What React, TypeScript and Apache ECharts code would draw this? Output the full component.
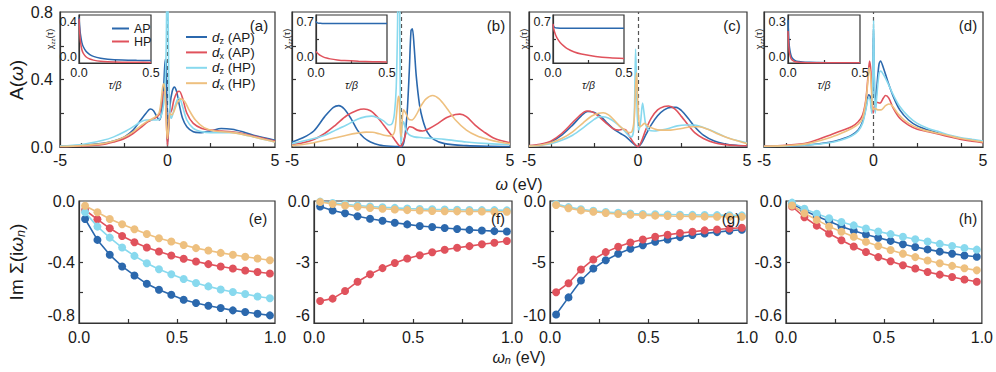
import React, { useEffect, useRef } from 'react';
import * as echarts from 'echarts';

const FONT = '"Liberation Sans", Arial, Helvetica, sans-serif';
const AX = '#333333';
const TXT = '#1a1a1a';

const COLORS = ['#2b68ad', '#e0525c', '#88d9ee', '#eec07f'];
const ORBITALS = ['dz (AP)', 'dx (AP)', 'dz (HP)', 'dx (HP)'];
const INSET_NAMES = ['AP', 'HP'];
const PANEL_LABELS = ['(a)', '(b)', '(c)', '(d)', '(e)', '(f)', '(g)', '(h)'];

// ---- spectral functions A(w): [omega (eV), A] ----
const aDzAP = [[-5,0.004],[-4,0.01],[-3,0.022],[-2.5,0.035],[-2,0.06],[-1.6,0.1],[-1.3,0.15],[-1.0,0.2],[-0.8,0.225],[-0.65,0.215],[-0.5,0.18],[-0.38,0.16],[-0.28,0.2],[-0.18,0.35],[-0.1,0.52],[-0.06,0.5],[-0.02,0.15],[0,0.02],[0.04,0.08],[0.12,0.25],[0.22,0.33],[0.32,0.355],[0.42,0.33],[0.55,0.25],[0.7,0.17],[0.9,0.12],[1.2,0.09],[1.5,0.085],[2,0.095],[2.5,0.11],[3,0.105],[3.5,0.09],[4,0.07],[4.5,0.055],[5,0.04]];
const aDxAP = [[-5,0.003],[-4,0.006],[-3,0.015],[-2.5,0.03],[-2,0.05],[-1.6,0.08],[-1.2,0.12],[-0.9,0.15],[-0.6,0.17],[-0.4,0.19],[-0.28,0.25],[-0.2,0.32],[-0.14,0.33],[-0.08,0.25],[-0.03,0.08],[0,0.01],[0.05,0.12],[0.12,0.2],[0.2,0.22],[0.3,0.28],[0.45,0.325],[0.55,0.33],[0.7,0.29],[0.9,0.2],[1.2,0.14],[1.6,0.11],[2,0.1],[2.5,0.095],[3,0.09],[3.5,0.08],[4,0.065],[4.5,0.05],[5,0.035]];
const aDzHP = [[-5,0.005],[-4,0.015],[-3,0.04],[-2.5,0.06],[-2,0.09],[-1.6,0.12],[-1.3,0.145],[-1.0,0.16],[-0.7,0.16],[-0.5,0.16],[-0.35,0.17],[-0.22,0.22],[-0.12,0.35],[-0.06,0.6],[-0.02,1.0],[0.02,0.9],[0.06,0.4],[0.12,0.2],[0.18,0.17],[0.3,0.22],[0.45,0.28],[0.55,0.29],[0.7,0.24],[0.9,0.16],[1.2,0.11],[1.6,0.09],[2,0.085],[2.5,0.085],[3,0.085],[3.5,0.075],[4,0.06],[4.5,0.045],[5,0.03]];
const aDxHP = [[-5,0.003],[-4,0.008],[-3,0.02],[-2.5,0.035],[-2,0.06],[-1.6,0.09],[-1.2,0.13],[-0.9,0.155],[-0.6,0.175],[-0.4,0.2],[-0.3,0.27],[-0.22,0.36],[-0.17,0.375],[-0.1,0.3],[-0.04,0.1],[0,0.05],[0.05,0.12],[0.12,0.2],[0.2,0.19],[0.3,0.21],[0.45,0.26],[0.62,0.285],[0.8,0.27],[1.0,0.22],[1.3,0.16],[1.7,0.115],[2.2,0.095],[3,0.085],[3.5,0.075],[4,0.06],[4.5,0.045],[5,0.03]];

const bDzAP = [[-5,0.03],[-4.5,0.055],[-4,0.095],[-3.5,0.18],[-3.1,0.235],[-2.85,0.245],[-2.6,0.225],[-2.3,0.17],[-2,0.1],[-1.7,0.055],[-1.4,0.03],[-1,0.012],[-0.5,0.004],[0,0.002],[0.15,0.04],[0.28,0.2],[0.38,0.45],[0.46,0.69],[0.52,0.7],[0.6,0.6],[0.7,0.42],[0.85,0.25],[1.0,0.16],[1.2,0.09],[1.5,0.045],[2,0.02],[3,0.008],[4,0.004],[5,0.003]];
const bDxAP = [[-5,0.015],[-4.5,0.025],[-4,0.045],[-3.5,0.08],[-3,0.13],[-2.5,0.185],[-2,0.218],[-1.7,0.225],[-1.4,0.215],[-1.1,0.18],[-0.8,0.13],[-0.5,0.08],[-0.3,0.045],[-0.1,0.01],[0,0.005],[0.1,0.03],[0.25,0.09],[0.4,0.12],[0.55,0.115],[0.75,0.1],[1,0.095],[1.3,0.11],[1.7,0.14],[2.1,0.175],[2.5,0.193],[2.7,0.195],[3,0.18],[3.4,0.13],[3.8,0.09],[4.3,0.05],[5,0.025]];
const bDzHP = [[-5,0.02],[-4.5,0.035],[-4,0.05],[-3.5,0.07],[-3,0.1],[-2.5,0.13],[-2,0.165],[-1.6,0.18],[-1.35,0.183],[-1.1,0.175],[-0.8,0.155],[-0.55,0.13],[-0.4,0.14],[-0.3,0.2],[-0.22,0.35],[-0.16,0.7],[-0.12,1.1],[-0.08,1.1],[-0.05,0.6],[-0.02,0.1],[0,0.02],[0.05,0.12],[0.12,0.15],[0.2,0.11],[0.35,0.075],[0.6,0.06],[1,0.055],[1.5,0.05],[2,0.045],[3,0.03],[4,0.02],[5,0.015]];
const bDxHP = [[-5,0.008],[-4.5,0.015],[-4,0.025],[-3.5,0.04],[-3,0.055],[-2.5,0.07],[-2,0.082],[-1.6,0.088],[-1.3,0.087],[-1,0.078],[-0.7,0.068],[-0.45,0.065],[-0.3,0.09],[-0.2,0.2],[-0.12,0.3],[-0.08,0.28],[-0.04,0.12],[0,0.06],[0.05,0.15],[0.12,0.22],[0.22,0.2],[0.35,0.165],[0.5,0.16],[0.7,0.19],[0.9,0.24],[1.15,0.285],[1.45,0.305],[1.75,0.285],[2.1,0.23],[2.5,0.16],[3,0.1],[3.5,0.065],[4,0.045],[4.5,0.03],[5,0.02]];

const cDzAP = [[-5,0.006],[-4.5,0.012],[-4,0.03],[-3.5,0.07],[-3,0.13],[-2.6,0.185],[-2.3,0.21],[-2,0.205],[-1.7,0.18],[-1.4,0.14],[-1.1,0.105],[-0.8,0.08],[-0.55,0.06],[-0.3,0.03],[-0.1,0.008],[0,0.002],[0.15,0.02],[0.35,0.07],[0.6,0.13],[0.9,0.185],[1.2,0.22],[1.5,0.235],[1.75,0.235],[2,0.215],[2.3,0.17],[2.6,0.12],[3,0.07],[3.5,0.035],[4,0.018],[4.5,0.01],[5,0.006]];
const cDxAP = [[-5,0.008],[-4.5,0.016],[-4,0.035],[-3.5,0.08],[-3,0.145],[-2.6,0.195],[-2.35,0.213],[-2.05,0.205],[-1.75,0.175],[-1.45,0.14],[-1.15,0.11],[-0.9,0.1],[-0.7,0.105],[-0.55,0.1],[-0.4,0.065],[-0.2,0.025],[0,0.002],[0.15,0.03],[0.35,0.1],[0.6,0.17],[0.9,0.22],[1.2,0.24],[1.4,0.243],[1.7,0.225],[2,0.18],[2.3,0.13],[2.6,0.085],[3,0.05],[3.5,0.025],[4,0.014],[4.5,0.009],[5,0.007]];
const cDzHP = [[-5,0.005],[-4.5,0.01],[-4,0.02],[-3.5,0.04],[-3,0.07],[-2.5,0.115],[-2.1,0.155],[-1.75,0.18],[-1.5,0.178],[-1.2,0.16],[-0.9,0.13],[-0.65,0.1],[-0.45,0.07],[-0.3,0.06],[-0.2,0.1],[-0.15,0.3],[-0.11,0.58],[-0.07,0.4],[-0.03,0.18],[0.04,0.1],[0.12,0.15],[0.21,0.26],[0.28,0.2],[0.36,0.13],[0.5,0.1],[0.75,0.095],[1,0.1],[1.4,0.11],[1.8,0.125],[2.2,0.13],[2.6,0.13],[3,0.115],[3.5,0.09],[4,0.06],[4.5,0.04],[5,0.025]];
const cDxHP = [[-5,0.005],[-4.5,0.01],[-4,0.025],[-3.5,0.05],[-3,0.09],[-2.5,0.145],[-2.1,0.185],[-1.8,0.2],[-1.6,0.203],[-1.35,0.19],[-1.1,0.16],[-0.85,0.125],[-0.6,0.1],[-0.4,0.085],[-0.28,0.09],[-0.18,0.16],[-0.1,0.38],[-0.06,0.44],[-0.02,0.3],[0.03,0.17],[0.1,0.12],[0.2,0.13],[0.3,0.14],[0.45,0.125],[0.7,0.11],[1,0.1],[1.5,0.1],[2,0.11],[2.5,0.12],[2.8,0.12],[3.2,0.105],[3.7,0.075],[4.2,0.05],[4.6,0.035],[5,0.02]];

const dDzAP = [[-5,0.003],[-4,0.006],[-3,0.012],[-2,0.028],[-1.5,0.045],[-1,0.07],[-0.7,0.1],[-0.5,0.15],[-0.35,0.23],[-0.22,0.31],[-0.15,0.3],[-0.08,0.22],[-0.03,0.4],[0,0.7],[0.03,0.45],[0.08,0.22],[0.15,0.35],[0.25,0.49],[0.32,0.51],[0.45,0.47],[0.65,0.39],[0.9,0.3],[1.2,0.22],[1.6,0.16],[2,0.125],[2.5,0.1],[3,0.08],[3.5,0.065],[4,0.05],[4.5,0.04],[5,0.03]];
const dDxAP = [[-5,0.005],[-4,0.01],[-3,0.025],[-2,0.07],[-1.5,0.095],[-1,0.12],[-0.7,0.15],[-0.5,0.19],[-0.35,0.28],[-0.25,0.42],[-0.18,0.51],[-0.12,0.45],[-0.06,0.28],[-0.02,0.2],[0.05,0.24],[0.15,0.265],[0.3,0.26],[0.45,0.29],[0.55,0.305],[0.7,0.29],[0.9,0.23],[1.2,0.17],[1.6,0.13],[2,0.105],[2.5,0.09],[3,0.075],[3.5,0.06],[4,0.045],[4.5,0.035],[5,0.025]];
const dDzHP = [[-5,0.003],[-4,0.006],[-3,0.012],[-2,0.025],[-1.5,0.04],[-1,0.065],[-0.7,0.095],[-0.5,0.14],[-0.35,0.22],[-0.22,0.29],[-0.15,0.28],[-0.08,0.2],[-0.03,0.45],[0.005,0.75],[0.035,0.45],[0.08,0.2],[0.15,0.3],[0.25,0.43],[0.33,0.45],[0.45,0.43],[0.65,0.38],[0.9,0.31],[1.2,0.24],[1.6,0.18],[2,0.14],[2.5,0.11],[3,0.09],[3.5,0.07],[4,0.055],[4.5,0.045],[5,0.035]];
const dDxHP = [[-5,0.004],[-4,0.008],[-3,0.02],[-2,0.055],[-1.5,0.08],[-1,0.11],[-0.7,0.135],[-0.5,0.17],[-0.35,0.27],[-0.25,0.4],[-0.2,0.47],[-0.13,0.42],[-0.07,0.28],[-0.02,0.22],[0.05,0.23],[0.2,0.22],[0.35,0.22],[0.55,0.245],[0.7,0.255],[0.85,0.245],[1.1,0.2],[1.4,0.16],[1.8,0.125],[2.3,0.1],[3,0.08],[3.5,0.065],[4,0.05],[4.5,0.04],[5,0.03]];

// ---- insets chi_zz(tau) ----
const insetTau = [0, 0.005, 0.01, 0.02, 0.03, 0.05, 0.075, 0.1, 0.15, 0.2, 0.3, 0.4, 0.5];
const aChiAP = [0.38, 0.3, 0.24, 0.17, 0.135, 0.095, 0.07, 0.055, 0.04, 0.032, 0.025, 0.022, 0.021];
const aChiHP = [0.37, 0.25, 0.18, 0.11, 0.08, 0.05, 0.033, 0.024, 0.014, 0.01, 0.007, 0.006, 0.005];
const bChiAP = [0.61, 0.59, 0.585, 0.58, 0.578, 0.577, 0.576, 0.576, 0.575, 0.575, 0.575, 0.575, 0.575];
const bChiHP = [0.17, 0.155, 0.145, 0.125, 0.11, 0.09, 0.072, 0.06, 0.045, 0.035, 0.025, 0.019, 0.016];
const cChiAP = [0.56, 0.535, 0.52, 0.512, 0.51, 0.508, 0.507, 0.507, 0.507, 0.507, 0.507, 0.507, 0.507];
const cChiHP = [0.57, 0.5, 0.46, 0.4, 0.36, 0.3, 0.25, 0.21, 0.16, 0.13, 0.095, 0.075, 0.065];
const dChiAP = [0.27, 0.16, 0.1, 0.05, 0.03, 0.015, 0.009, 0.006, 0.004, 0.003, 0.002, 0.002, 0.002];
const dChiHP = [0.2, 0.11, 0.065, 0.03, 0.018, 0.008, 0.005, 0.003, 0.002, 0.001, 0.001, 0.001, 0.001];

// ---- self-energies Im Sigma(i w_n) ----
const wn = [0.031, 0.094, 0.157, 0.220, 0.283, 0.346, 0.408, 0.471, 0.534, 0.597, 0.660, 0.723, 0.785, 0.848, 0.911, 0.974];
const eDzAP = [-0.118,-0.255,-0.353,-0.429,-0.488,-0.543,-0.582,-0.615,-0.647,-0.669,-0.687,-0.702,-0.717,-0.728,-0.739,-0.75];
const eDxAP = [-0.059,-0.12,-0.179,-0.229,-0.27,-0.305,-0.331,-0.357,-0.379,-0.397,-0.414,-0.429,-0.443,-0.456,-0.466,-0.475];
const eDzHP = [-0.074,-0.168,-0.24,-0.305,-0.36,-0.408,-0.447,-0.48,-0.512,-0.538,-0.56,-0.58,-0.597,-0.61,-0.626,-0.638];
const eDxHP = [-0.031,-0.074,-0.118,-0.152,-0.185,-0.216,-0.244,-0.266,-0.288,-0.309,-0.325,-0.34,-0.353,-0.366,-0.377,-0.388];
const fDzAP = [-0.27,-0.47,-0.6,-0.75,-0.87,-0.97,-1.07,-1.15,-1.23,-1.28,-1.33,-1.38,-1.42,-1.45,-1.48,-1.5];
const fDxAP = [-4.92,-4.8,-4.43,-3.97,-3.6,-3.3,-3.05,-2.83,-2.67,-2.52,-2.4,-2.3,-2.22,-2.13,-2.05,-1.97];
const fDzHP = [-0.03,-0.1,-0.16,-0.22,-0.27,-0.31,-0.34,-0.37,-0.39,-0.41,-0.42,-0.43,-0.44,-0.45,-0.45,-0.46];
const fDxHP = [-0.05,-0.15,-0.22,-0.29,-0.34,-0.38,-0.42,-0.45,-0.47,-0.49,-0.5,-0.51,-0.52,-0.52,-0.53,-0.53];
const gDzAP = [-9.3,-7.9,-6.52,-5.53,-4.85,-4.33,-3.92,-3.62,-3.34,-3.15,-2.96,-2.79,-2.66,-2.55,-2.44,-2.36];
const gDxAP = [-7.48,-6.74,-5.62,-4.79,-4.19,-3.75,-3.4,-3.15,-2.93,-2.77,-2.63,-2.52,-2.41,-2.33,-2.25,-2.19];
const gDzHP = [-0.25,-0.5,-0.68,-0.8,-0.9,-0.97,-1.02,-1.06,-1.09,-1.11,-1.13,-1.14,-1.15,-1.16,-1.17,-1.18];
const gDxHP = [-0.33,-0.6,-0.77,-0.88,-0.99,-1.07,-1.12,-1.16,-1.2,-1.23,-1.25,-1.26,-1.28,-1.29,-1.29,-1.3];
const hDzAP = [-0.013,-0.047,-0.075,-0.1,-0.125,-0.146,-0.165,-0.181,-0.196,-0.213,-0.226,-0.238,-0.249,-0.259,-0.268,-0.274];
const hDxAP = [-0.027,-0.08,-0.121,-0.16,-0.193,-0.224,-0.251,-0.276,-0.296,-0.316,-0.332,-0.349,-0.362,-0.374,-0.386,-0.397];
const hDzHP = [-0.008,-0.038,-0.063,-0.085,-0.103,-0.12,-0.135,-0.15,-0.163,-0.176,-0.188,-0.199,-0.211,-0.221,-0.231,-0.239];
const hDxHP = [-0.022,-0.06,-0.093,-0.125,-0.151,-0.176,-0.2,-0.221,-0.241,-0.259,-0.276,-0.293,-0.306,-0.319,-0.331,-0.341];

// ---- axis ticks / labels ----
const omegaLabels = [-5, 0, 5];
const omegaTicks = [-4, -2, 0, 2, 4];
const aLabels = [0, 0.4, 0.8];
const aTicks = [0.2, 0.4, 0.6];
const wnLabels = [0, 0.5, 1];
const wnTicks = [0.25, 0.5, 0.75];
const sigmaMins = [-0.8, -6, -10, -0.6];
const sigmaTicks = [[-0.6, -0.4, -0.2], [-4.5, -3, -1.5], [-7.5, -5, -2.5], [-0.45, -0.3, -0.15]];
const sigmaLabels = [[-0.8, -0.4, 0], [-6, -3, 0], [-10, -5, 0], [-0.6, -0.3, 0]];
const insetMax = [0.4, 0.7, 0.7, 0.3];
const insetTauLabels = [0, 0.5];
const insetTauTicks = [0.25];

const topCurves = [
  [aDzAP, aDxAP, aDzHP, aDxHP],
  [bDzAP, bDxAP, bDzHP, bDxHP],
  [cDzAP, cDxAP, cDzHP, cDxHP],
  [dDzAP, dDxAP, dDzHP, dDxHP],
];
const botCurves = [
  [eDzAP, eDxAP, eDzHP, eDxHP],
  [fDzAP, fDxAP, fDzHP, fDxHP],
  [gDzAP, gDxAP, gDzHP, gDxHP],
  [hDzAP, hDxAP, hDzHP, hDxHP],
];
const insetCurves = [
  [aChiAP, aChiHP],
  [bChiAP, bChiHP],
  [cChiAP, cChiHP],
  [dChiAP, dChiHP],
];

// ---- layout ----
const TOP_GRIDS = [
  { left: 60, top: 12, width: 215, height: 135 },
  { left: 292, top: 12, width: 218, height: 135 },
  { left: 529, top: 12, width: 218, height: 135 },
  { left: 764, top: 12, width: 219, height: 135 },
];
const BOT_GRIDS = [
  { left: 79, top: 201, width: 196, height: 122 },
  { left: 314, top: 201, width: 198, height: 122 },
  { left: 550, top: 201, width: 197, height: 122 },
  { left: 786, top: 201, width: 197, height: 122 },
];
const INSET_GRIDS = [
  { left: 79, top: 15, width: 72, height: 48 },
  { left: 316, top: 15, width: 71, height: 48 },
  { left: 553, top: 15, width: 71, height: 48 },
  { left: 788, top: 15, width: 72, height: 48 },
];
const LABEL_POS = [[259, 25], [496, 25], [732, 25], [968, 25], [258, 218], [498, 218], [731, 218], [968, 218]];
const TICK_FONT = 16;

function buildOption() {
  const lineStyle = { color: AX, width: 1.2 };
  const grid: any[] = [];
  const xAxis: any[] = [];
  const yAxis: any[] = [];
  const series: any[] = [];

  const gridStyle = (g: any, bg: string) => ({
    ...g, show: true, borderColor: AX, borderWidth: 1.2, backgroundColor: bg, containLabel: false,
  });

  TOP_GRIDS.forEach((g, p) => {
    grid.push(gridStyle(g, 'transparent'));
    xAxis.push({
      type: 'value', gridIndex: p, min: -5, max: 5,
      axisLine: { show: true, onZero: false, lineStyle },
      axisTick: { show: true, inside: true, length: 4, customValues: omegaTicks, lineStyle },
      axisLabel: { customValues: omegaLabels, fontSize: TICK_FONT, color: TXT, fontFamily: FONT, margin: 5 },
      splitLine: { show: false },
    });
    yAxis.push({
      type: 'value', gridIndex: p, min: 0, max: 0.8,
      axisLine: { show: true, onZero: false, lineStyle },
      axisTick: { show: true, inside: true, length: 4, customValues: aTicks, lineStyle },
      axisLabel: {
        show: p === 0, customValues: aLabels, fontSize: TICK_FONT, color: TXT, fontFamily: FONT, margin: 7,
        formatter: (v: number) => v.toFixed(1),
      },
      splitLine: { show: false },
    });
  });

  BOT_GRIDS.forEach((g, p) => {
    const idx = 4 + p;
    grid.push(gridStyle(g, 'transparent'));
    xAxis.push({
      type: 'value', gridIndex: idx, min: 0, max: 1,
      axisLine: { show: true, onZero: false, lineStyle },
      axisTick: { show: true, inside: true, length: 4, customValues: wnTicks, lineStyle },
      axisLabel: {
        customValues: wnLabels, fontSize: TICK_FONT, color: TXT, fontFamily: FONT, margin: 6,
        formatter: (v: number) => v.toFixed(1),
      },
      splitLine: { show: false },
    });
    yAxis.push({
      type: 'value', gridIndex: idx, min: sigmaMins[p], max: 0,
      axisLine: { show: true, onZero: false, lineStyle },
      axisTick: { show: true, inside: true, length: 4, customValues: sigmaTicks[p], lineStyle },
      axisLabel: {
        customValues: sigmaLabels[p], fontSize: TICK_FONT, color: TXT, fontFamily: FONT, margin: 4,
        verticalAlignMinLabel: 'bottom',
        formatter: (v: number) => (v === 0 ? '0.0' : Number.isInteger(v) ? String(v) : v.toFixed(1)),
      },
      splitLine: { show: false },
    });
  });

  INSET_GRIDS.forEach((g, p) => {
    const idx = 8 + p;
    grid.push({ ...gridStyle(g, '#ffffff'), z: 5 });
    xAxis.push({
      type: 'value', gridIndex: idx, min: 0, max: 0.5, z: 6,
      axisLine: { show: true, onZero: false, lineStyle },
      axisTick: { show: true, inside: true, length: 3, customValues: insetTauTicks, lineStyle },
      axisLabel: {
        customValues: insetTauLabels, fontSize: 12.5, color: TXT, fontFamily: FONT, margin: 3,
        formatter: (v: number) => v.toFixed(1),
      },
      name: 'τ/β', nameLocation: 'middle', nameGap: 4,
      nameTextStyle: { fontSize: 10.5, fontStyle: 'italic', fontFamily: FONT, color: TXT },
      splitLine: { show: false },
    });
    yAxis.push({
      type: 'value', gridIndex: idx, min: 0, max: insetMax[p], z: 6,
      axisLine: { show: true, onZero: false, lineStyle },
      axisTick: { show: true, inside: true, length: 3, customValues: [insetMax[p] / 2], lineStyle },
      axisLabel: {
        customValues: [0, insetMax[p]], fontSize: 12.5, color: TXT, fontFamily: FONT, margin: 2,
        verticalAlignMinLabel: 'bottom', verticalAlignMaxLabel: 'top',
        formatter: (v: number) => v.toFixed(1),
      },
      name: '{c|χ}{s|zz}{c|(τ)}', nameLocation: 'middle', nameGap: 10, nameRotate: 90,
      nameTextStyle: {
        color: TXT, fontFamily: FONT, fontSize: 9,
        rich: {
          c: { fontSize: 9, fontFamily: FONT, color: TXT, lineHeight: 11 },
          s: { fontSize: 6, fontFamily: FONT, color: TXT, verticalAlign: 'bottom', lineHeight: 11 },
        },
      },
      splitLine: { show: false },
    });
  });

  topCurves.forEach((curves, p) => {
    curves.forEach((data, k) => {
      const s: any = {
        type: 'line', name: ORBITALS[k], xAxisIndex: p, yAxisIndex: p, data,
        showSymbol: false, symbol: 'none', smooth: 0.3, clip: true, z: 3,
        lineStyle: { width: 1.6, color: COLORS[k] }, itemStyle: { color: COLORS[k] },
      };
      if (k === 0) {
        s.markLine = {
          silent: true, symbol: ['none', 'none'], label: { show: false }, z: 2,
          lineStyle: { type: [4, 3], color: '#555555', width: 1.2 },
          data: [{ xAxis: 0 }],
        };
      }
      series.push(s);
    });
  });

  botCurves.forEach((curves, p) => {
    curves.forEach((vals, k) => {
      series.push({
        type: 'line', name: ORBITALS[k], xAxisIndex: 4 + p, yAxisIndex: 4 + p,
        data: wn.map((x, j) => [x, vals[j]]),
        symbol: 'circle', symbolSize: 8, showSymbol: true, clip: false, z: 3,
        lineStyle: { width: 1.6, color: COLORS[k] }, itemStyle: { color: COLORS[k] },
      });
    });
  });

  insetCurves.forEach((curves, p) => {
    curves.forEach((vals, k) => {
      series.push({
        type: 'line', name: INSET_NAMES[k], xAxisIndex: 8 + p, yAxisIndex: 8 + p,
        data: insetTau.map((t, j) => [t, vals[j]]),
        showSymbol: false, symbol: 'none', smooth: 0.3, clip: true, z: 7,
        lineStyle: { width: 1.5, color: COLORS[k] }, itemStyle: { color: COLORS[k] },
      });
    });
  });

  const legend = [
    {
      data: ORBITALS.map((name) => ({ name, icon: 'rect' })),
      orient: 'vertical', left: 181, top: 25, itemWidth: 21, itemHeight: 2, itemGap: 0.4,
      selectedMode: false,
      formatter: (name: string) => `{i|d}{s|${name[1]}}{t|${name.slice(2)}}`,
      textStyle: {
        fontFamily: FONT, fontSize: 13.5, color: TXT,
        rich: {
          i: { fontFamily: FONT, fontSize: 13.5, fontStyle: 'italic', color: TXT, lineHeight: 16 },
          s: { fontFamily: FONT, fontSize: 9, color: TXT, verticalAlign: 'bottom', lineHeight: 16 },
          t: { fontFamily: FONT, fontSize: 13.5, color: TXT, lineHeight: 16 },
        },
      },
    },
    {
      data: INSET_NAMES.map((name) => ({ name, icon: 'rect' })),
      orient: 'vertical', left: 107, top: 17, itemWidth: 17, itemHeight: 2, itemGap: 0,
      selectedMode: false, z: 10,
      textStyle: { fontFamily: FONT, fontSize: 12.5, color: TXT, lineHeight: 12.5 },
    },
  ];

  const richY = {
    r: { fontFamily: FONT, fontSize: 19, fill: TXT, lineHeight: 22 },
    i: { fontFamily: FONT, fontSize: 19, fontStyle: 'italic', fill: TXT, lineHeight: 22 },
    s: { fontFamily: FONT, fontSize: 12.5, fontStyle: 'italic', fill: TXT, verticalAlign: 'bottom', lineHeight: 22 },
  };
  const richX = {
    r: { fontFamily: FONT, fontSize: 16, fill: TXT, lineHeight: 16 },
    i: { fontFamily: FONT, fontSize: 16, fontStyle: 'italic', fill: TXT, lineHeight: 16 },
    s: { fontFamily: FONT, fontSize: 11, fontStyle: 'italic', fill: TXT, verticalAlign: 'bottom', lineHeight: 16 },
  };
  const graphic: any[] = [
    {
      type: 'text', x: 16, y: 80, rotation: Math.PI / 2,
      style: { text: '{r|A(}{i|ω}{r|)}', rich: richY, align: 'center', verticalAlign: 'middle', fill: TXT },
    },
    {
      type: 'text', x: 16, y: 262, rotation: Math.PI / 2,
      style: { text: '{r|Im Σ(i}{i|ω}{s|n}{r|)}', rich: richY, align: 'center', verticalAlign: 'middle', fill: TXT },
    },
    {
      type: 'text', x: 519, y: 184,
      style: { text: '{i|ω}{r| (eV)}', rich: richX, align: 'center', verticalAlign: 'middle', fill: TXT },
    },
    {
      type: 'text', x: 519, y: 357,
      style: { text: '{i|ω}{s|n}{r| (eV)}', rich: richX, align: 'center', verticalAlign: 'middle', fill: TXT },
    },
    ...PANEL_LABELS.map((t, i) => ({
      type: 'text', x: LABEL_POS[i][0], y: LABEL_POS[i][1], z: 20,
      style: { text: t, fontFamily: FONT, fontSize: 15, fill: TXT, align: 'center', verticalAlign: 'middle' },
    })),
  ];

  return {
    animation: false,
    backgroundColor: '#ffffff',
    textStyle: { fontFamily: FONT },
    grid, xAxis, yAxis, series, legend, graphic,
  };
}

export default function App() {
  const ref = useRef<HTMLDivElement>(null);
  useEffect(() => {
    if (!ref.current) return;
    const chart = echarts.init(ref.current, null, { renderer: 'svg' });
    chart.setOption(buildOption() as any);
    return () => chart.dispose();
  }, []);
  return (
    <div
      ref={ref}
      style={{ position: 'absolute', left: 0, top: 0, width: 996, height: 372, background: '#fff' }}
    />
  );
}
